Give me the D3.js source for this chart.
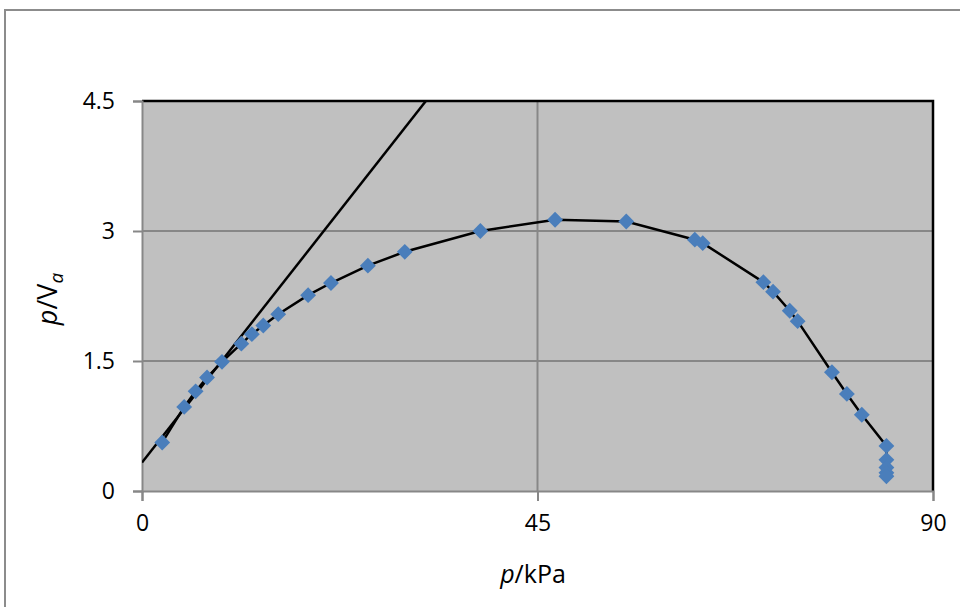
<!DOCTYPE html>
<html>
<head>
<meta charset="utf-8">
<script src="https://cdn.jsdelivr.net/npm/d3@7"></script>
<style>
  body { margin: 0; background: #fff; }
  svg { display: block; font-family: "Open Sans", "Liberation Sans", sans-serif; }
</style>
</head>
<body>
<svg id="chart" width="960" height="607"></svg>
<script>
// measured points, p in kPa
var pressure = [2.3, 4.8, 6.1, 7.4, 9.1, 11.3, 12.5, 13.8, 15.5, 18.9, 21.5, 25.7, 29.9, 38.5,
  47.0, 55.1, 62.9, 63.8, 70.7, 71.8, 73.7, 74.6, 78.5, 80.2, 81.9, 84.7, 84.7, 84.7, 84.7, 84.7];
var pOverV = [0.56, 0.97, 1.15, 1.31, 1.49, 1.70, 1.81, 1.91, 2.04, 2.26, 2.40, 2.60, 2.76, 3.00,
  3.13, 3.11, 2.90, 2.86, 2.41, 2.30, 2.08, 1.96, 1.37, 1.12, 0.88, 0.52, 0.36, 0.27, 0.21, 0.17];
// tangent line at low pressure
var tangentP = [0, 32.3];
var tangentV = [0.33, 4.5];
var xTicks = [0, 45, 90];
var yTicks = [0, 1.5, 3, 4.5];

var margin = {top: 101, right: 27, bottom: 116, left: 142}
  , width = 960 - margin.left - margin.right
  , height = 607 - margin.top - margin.bottom;

var svg = d3.select("#chart");

// outer chart frame
svg.append("path")
    .attr("d", "M5,607 L5,10 L960,10")
    .attr("fill", "none")
    .attr("stroke", "#8c8c8c")
    .attr("stroke-width", 2);

var g = svg.append("g")
    .attr("transform", "translate(" + margin.left + "," + margin.top + ")");

var xScale = d3.scaleLinear().domain([0, 90]).range([0, width]);
var yScale = d3.scaleLinear().domain([0, 4.5]).range([height, 0]);

g.append("rect")
    .attr("width", width)
    .attr("height", height)
    .attr("fill", "#c0c0c0");

// gridlines
g.selectAll(".hgrid").data(yTicks.slice(1, 3)).enter().append("line")
    .attr("x1", 0).attr("x2", width)
    .attr("y1", d => yScale(d)).attr("y2", d => yScale(d))
    .attr("stroke", "#878787").attr("stroke-width", 2);
g.selectAll(".vgrid").data([45]).enter().append("line")
    .attr("x1", d => xScale(d)).attr("x2", d => xScale(d))
    .attr("y1", 0).attr("y2", height)
    .attr("stroke", "#878787").attr("stroke-width", 2);

// top and right border
g.append("path")
    .attr("d", "M0,0 L" + width + ",0 L" + width + "," + height)
    .attr("fill", "none")
    .attr("stroke", "#000")
    .attr("stroke-width", 2.5);

// axes
var xAxis = g.append("g")
    .attr("transform", "translate(0," + height + ")")
    .call(d3.axisBottom(xScale).tickValues(xTicks).tickSize(10).tickPadding(14).tickFormat(d3.format("d")));
var yAxis = g.append("g")
    .call(d3.axisLeft(yScale).tickValues(yTicks).tickSize(9).tickPadding(18).tickFormat(d => d));
[xAxis, yAxis].forEach(function(a) {
  a.attr("font-size", null).attr("font-family", null);
  a.select(".domain").attr("stroke", "#878787").attr("stroke-width", 2);
  a.selectAll(".tick line").attr("stroke", "#878787").attr("stroke-width", 2);
  a.selectAll(".tick text").attr("fill", "#000").style("font-size", "23px");
});

// clip for the tangent line
g.append("clipPath").attr("id", "plotclip")
  .append("rect").attr("width", width).attr("height", height);

var tangent = tangentP.map((p, i) => [p, tangentV[i]]);
g.append("path")
    .datum(tangent)
    .attr("clip-path", "url(#plotclip)")
    .attr("fill", "none")
    .attr("stroke", "#000")
    .attr("stroke-width", 2.5)
    .attr("d", d3.line().x(d => xScale(d[0])).y(d => yScale(d[1])));

var data = pressure.map((p, i) => ({p: p, v: pOverV[i]}));
var line = d3.line()
    .x(d => xScale(d.p))
    .y(d => yScale(d.v));

g.append("path")
    .datum(data)
    .attr("fill", "none")
    .attr("stroke", "#000")
    .attr("stroke-width", 2.5)
    .attr("d", line);

g.selectAll(".pt").data(data).enter().append("path")
    .attr("class", "pt")
    .attr("d", d3.symbol().type(d3.symbolDiamond2).size(160))
    .attr("transform", d => "translate(" + xScale(d.p) + "," + yScale(d.v) + ")")
    .attr("fill", "#4a7ebb");

// axis titles
svg.append("text")
    .attr("x", 533).attr("y", 583)
    .attr("text-anchor", "middle")
    .style("font-size", "25px")
    .html("<tspan font-style='italic'>p</tspan>/kPa");

svg.append("text")
    .attr("transform", "translate(57,299) rotate(-90)")
    .attr("text-anchor", "middle")
    .style("font-size", "27px")
    .html("<tspan font-style='italic'>p</tspan>/V<tspan font-style='italic' font-size='19px' dy='6'>a</tspan>");
</script>
</body>
</html>
